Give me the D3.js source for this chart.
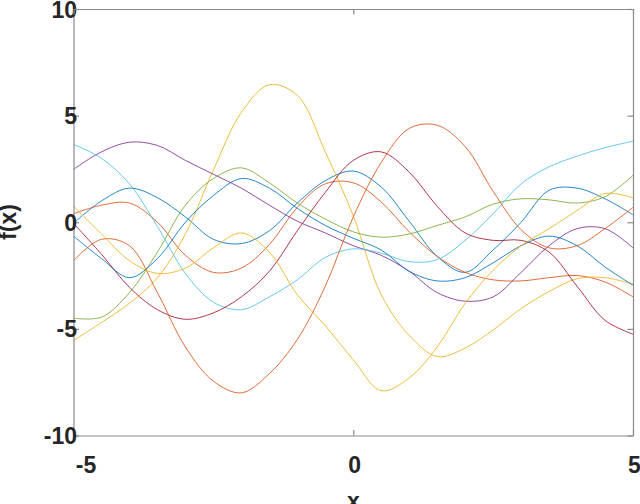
<!DOCTYPE html>
<html>
<head>
<meta charset="utf-8">
<script src="https://cdn.jsdelivr.net/npm/d3@7"></script>
<style>
  body{margin:0;background:#fff;}
  svg{display:block;}
</style>
</head>
<body>
<div class="canvas"></div>
<script>
// sample points on x (shared by every curve)
const xs=[-5,-4.5,-4,-3.5,-3,-2.5,-2,-1.5,-1,-0.5,0,0.5,1,1.5,2,2.5,3,3.5,4,4.5,5];

// ten samples
const blueA  =[-0.05,1.0,1.6,1.15,0.25,-0.8,-1.0,-0.4,0.9,1.95,2.4,1.65,0.05,-1.6,-2.35,-1.3,0.0,1.5,1.6,1.1,0.35];
const orangeA=[0.4,0.8,0.9,0.0,-1.55,-2.35,-2.15,-1.05,0.7,1.8,1.85,0.95,-0.45,-1.6,-2.35,-2.7,-2.75,-2.6,-2.5,-2.8,-3.5];
const yellowA=[-5.55,-4.7,-3.8,-2.6,-0.55,2.45,5.15,6.45,5.95,3.3,0.3,-3.4,-5.3,-6.3,-5.9,-5.05,-4.05,-3.25,-2.65,-2.6,-2.9];
const purple =[2.48,3.3,3.75,3.6,2.9,2.25,1.6,0.8,0.05,-0.5,-1.1,-1.55,-2.3,-3.3,-3.7,-3.5,-2.35,-1.1,-0.3,-0.3,-1.2];
const green  =[-4.5,-4.45,-3.3,-1.4,0.8,2.05,2.55,1.85,0.9,0.15,-0.45,-0.7,-0.55,-0.15,0.25,0.85,1.1,1.05,0.9,1.2,2.2];
const cyan   =[3.65,3.0,1.8,-0.2,-2.4,-3.75,-4.1,-3.5,-2.7,-1.65,-1.25,-1.45,-1.85,-1.75,-0.85,0.4,1.8,2.6,3.1,3.5,3.8];
const red    =[-0.05,-1.5,-3.05,-4.1,-4.55,-4.25,-3.5,-2.3,-0.4,1.4,2.9,3.3,2.35,0.75,-0.5,-0.85,-0.85,-1.4,-3.0,-4.6,-5.25];
const blueB  =[-0.65,-1.7,-2.6,-1.7,0.0,1.25,2.05,1.6,0.65,-0.15,-0.75,-1.3,-2.3,-2.75,-2.6,-1.9,-1.1,-0.65,-1.1,-2.1,-2.95];
const orangeB=[-1.8,-0.8,-1.1,-3.3,-5.85,-7.45,-8.0,-7.1,-5.5,-3.0,0.25,2.8,4.4,4.55,3.55,1.45,-0.35,-1.2,-1.1,-0.3,0.7];
const yellowB=[0.75,-0.55,-1.8,-2.4,-2.15,-1.2,-0.5,-1.4,-3.4,-4.85,-6.45,-7.9,-7.3,-5.85,-3.8,-2.25,-1.1,-0.3,0.55,1.35,1.15];

const series=[blueA,orangeA,yellowA,purple,green,cyan,red,blueB,orangeB,yellowB];
// matlab default colour order, wraps after seven
const colors=['#0072BD','#D95319','#EDB120','#7E2F8E','#77AC30','#4DBEEE','#A2142F'];

const xTicks=[-5,0,5];
const yTicks=[-10,-5,0,5,10];

const svg=d3.select('.canvas')
  .append('svg')
    .attr('width',640)
    .attr('height',504);

// plot box
const boxL=73.5, boxR=633, boxT=9, boxB=435.5;

const x=d3.scaleLinear().domain([-5,5]).range([boxL,boxR]);
const y=d3.scaleLinear().domain([-10,10]).range([boxB,boxT]);

const font='"Liberation Sans", Arial, Helvetica, sans-serif';
const axisCol='#8a8a8a';
const textCol='#262626';
const fmt=d=>String(d); // plain hyphen, not the unicode minus

// curves
const line=d3.line()
  .x((d,i)=>x(xs[i]))
  .y(d=>y(d))
  .curve(d3.curveCatmullRom.alpha(0.5));

svg.append('g')
  .selectAll('path')
  .data(series)
  .enter()
  .append('path')
    .attr('d',line)
    .attr('fill','none')
    .attr('stroke',(d,i)=>colors[i%colors.length])
    .attr('stroke-width',1)
    .attr('stroke-opacity',0.85)
    .attr('stroke-linejoin','round');

// axes, ticks point inward like matlab
const xAxisGroup=svg.append('g').attr('transform',`translate(0,${boxB})`);
const yAxisGroup=svg.append('g').attr('transform',`translate(${boxL},0)`);
const xTopGroup=svg.append('g').attr('transform',`translate(0,${boxT})`);
const yRightGroup=svg.append('g').attr('transform',`translate(${boxR},0)`);

xAxisGroup.call(d3.axisBottom(x).tickValues(xTicks).tickFormat(fmt).tickSizeInner(-5.5).tickSizeOuter(0).tickPadding(21));
yAxisGroup.call(d3.axisLeft(y).tickValues(yTicks).tickFormat(fmt).tickSizeInner(-5.5).tickSizeOuter(0));
xTopGroup.call(d3.axisTop(x).tickValues(xTicks).tickSizeInner(-5.5).tickSizeOuter(0).tickFormat(''));
yRightGroup.call(d3.axisRight(y).tickValues(yTicks).tickSizeInner(-5.5).tickSizeOuter(0).tickFormat(''));

svg.selectAll('.domain,.tick line')
  .attr('stroke',axisCol)
  .attr('stroke-width',1.2);

svg.selectAll('.tick text')
  .attr('font-family',font)
  .attr('font-size',23)
  .attr('font-weight','bold')
  .attr('fill',textCol);

// y tick labels sit against the axis line
yAxisGroup.selectAll('.tick text')
  .attr('x',3.5)
  .attr('dy','0.35em')
  .attr('text-anchor','end');

// x tick labels, first one is pushed right in the original
xAxisGroup.selectAll('.tick text')
  .attr('dy','0.71em')
  .attr('dx',d=>d===-5?12:1);

// axis titles
svg.append('text')
  .attr('x',353.5)
  .attr('y',509)
  .attr('text-anchor','middle')
  .attr('font-family',font)
  .attr('font-size',23)
  .attr('font-weight','bold')
  .attr('fill',textCol)
  .text('x');

svg.append('text')
  .attr('transform','translate(16,222) rotate(-90)')
  .attr('text-anchor','middle')
  .attr('font-family',font)
  .attr('font-size',23)
  .attr('font-weight','bold')
  .attr('fill',textCol)
  .text('f(x)');
</script>
</body>
</html>
